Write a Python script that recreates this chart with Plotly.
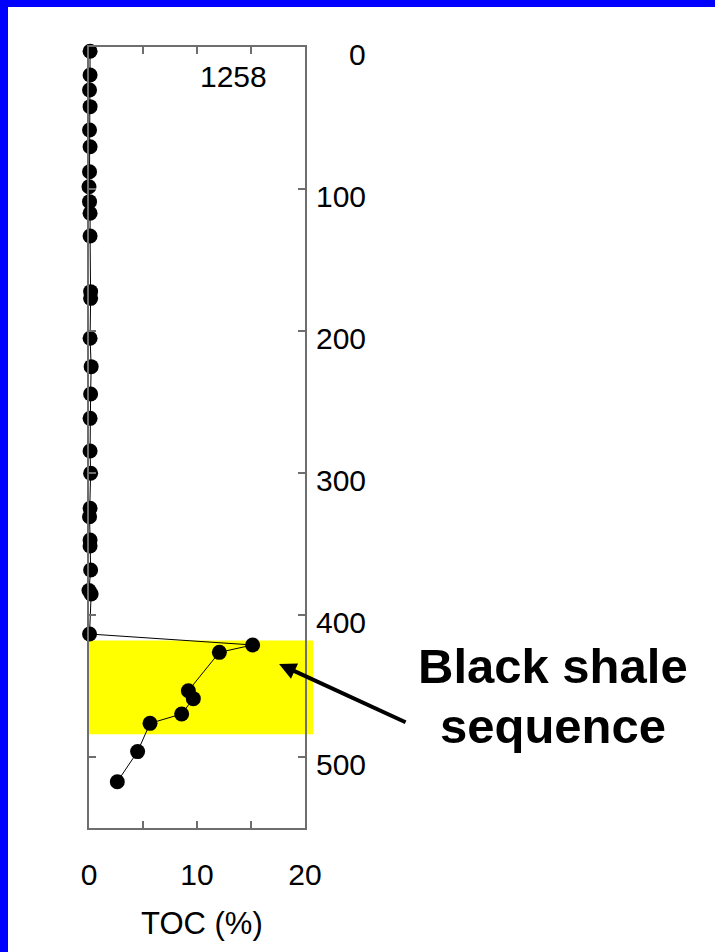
import plotly.graph_objects as go

# Site 1258: total organic carbon versus depth
depth_m = [3, 19.7, 30.3, 42.0, 58.5, 70.2, 87.8, 98.4, 108.9, 117.1, 133.1,
           172.3, 177.0, 205.1, 225.1, 244.4, 261.5, 284.5, 300.2, 324.9,
           330.8, 347.2, 351.4, 368.3, 382.7, 385.2, 413.4,
           421.1, 426.3, 453.3, 458.9, 469.7, 476.3, 496.2, 517.4]
toc_pct = [0.1, 0.1, 0.05, 0.1, 0.05, 0.1, 0.05, 0.0, 0.05, 0.1, 0.1,
           0.15, 0.15, 0.1, 0.2, 0.15, 0.1, 0.1, 0.15, 0.1,
           0.05, 0.1, 0.1, 0.15, 0.0, 0.2, 0.05,
           15.15, 12.07, 9.2, 9.66, 8.58, 5.65, 4.5, 2.62]

# black shale interval (depth range)
shale_top, shale_base = 418, 484

x_tickvals = [0, 5, 10, 15, 20]
x_ticktext = ["0", "", "10", "", "20"]
depth_ticks = [0, 100, 200, 300, 400, 500]

W, H = 715, 952
ML, MR, MT, MB = 89, 410, 47, 124
PW, PH = W - ML - MR, H - MT - MB

FONT = "Liberation Sans, Arial, sans-serif"
AXIS_COLOR = "#6e6e6e"
LABEL_SIZE = 30

fig = go.Figure()
fig.add_trace(go.Scatter(
    x=toc_pct, y=depth_m, mode="lines+markers",
    line=dict(color="black", width=1),
    marker=dict(color="black", size=15),
    showlegend=False, cliponaxis=False,
))

shapes = [
    # highlighted black shale sequence
    dict(type="rect", xref="paper", yref="y", x0=0, x1=(313 - ML) / PW,
         y0=shale_top, y1=shale_base, fillcolor="#FFFF00",
         line=dict(width=0), layer="below"),
    # blue frame on left and top edges
    dict(type="rect", xref="paper", yref="paper",
         x0=-ML / PW, x1=(8 - ML) / PW, y0=-MB / PH, y1=(H - MB) / PH,
         fillcolor="#0000FF", line=dict(width=0), layer="above"),
    dict(type="rect", xref="paper", yref="paper",
         x0=-ML / PW, x1=(W - ML) / PW, y0=(H - MB - 7) / PH, y1=(H - MB) / PH,
         fillcolor="#0000FF", line=dict(width=0), layer="above"),
]

annotations = []
for d in depth_ticks:
    annotations.append(dict(
        xref="paper", yref="y", x=1, y=d, text=str(d), showarrow=False,
        xanchor="right", yanchor="middle", xshift=63, yshift=-7,
        font=dict(family=FONT, size=LABEL_SIZE, color="black"),
    ))
annotations += [
    dict(xref="x", yref="y", x=13.4, y=21, text="1258", showarrow=False,
         xanchor="center", yanchor="middle",
         font=dict(family=FONT, size=LABEL_SIZE, color="black")),
    dict(xref="paper", yref="paper", x=(202 - ML) / PW, y=(H - MB - 923) / PH,
         text="TOC (%)", showarrow=False, xanchor="center", yanchor="middle",
         font=dict(family=FONT, size=31, color="black")),
    dict(xref="paper", yref="y", x=(553 - ML) / PW, y=435.9,
         text="<b>Black shale</b>", showarrow=False,
         xanchor="center", yanchor="middle",
         font=dict(family=FONT, size=49, color="black")),
    dict(xref="paper", yref="y", x=(553 - ML) / PW, y=478.2,
         text="<b>sequence</b>", showarrow=False,
         xanchor="center", yanchor="middle",
         font=dict(family=FONT, size=49, color="black")),
    dict(xref="x", yref="y", x=17.6, y=434.5, text="", showarrow=True,
         ax=128, ay=59, arrowhead=2, arrowsize=0.85, arrowwidth=4,
         arrowcolor="black", standoff=0),
]

fig.update_layout(
    width=W, height=H,
    margin=dict(l=ML, r=MR, t=MT, b=MB, pad=0),
    paper_bgcolor="white", plot_bgcolor="white",
    shapes=shapes, annotations=annotations,
    font=dict(family=FONT, size=LABEL_SIZE, color="black"),
    xaxis=dict(
        range=[0, 20], tickvals=x_tickvals, ticktext=x_ticktext,
        ticks="inside", ticklen=7, tickwidth=1.5, tickcolor=AXIS_COLOR,
        showline=True, linecolor=AXIS_COLOR, linewidth=1.5, mirror="ticks",
        showgrid=False, zeroline=False, ticklabelstandoff=19,
        tickfont=dict(family=FONT, size=LABEL_SIZE, color="black"),
    ),
    yaxis=dict(
        range=[550, 0], side="right", tickvals=depth_ticks,
        showticklabels=False,
        ticks="inside", ticklen=7, tickwidth=1.5, tickcolor=AXIS_COLOR,
        showline=True, linecolor=AXIS_COLOR, linewidth=1.5, mirror="ticks",
        showgrid=False, zeroline=False,
    ),
)

fig.write_html("out.html")
